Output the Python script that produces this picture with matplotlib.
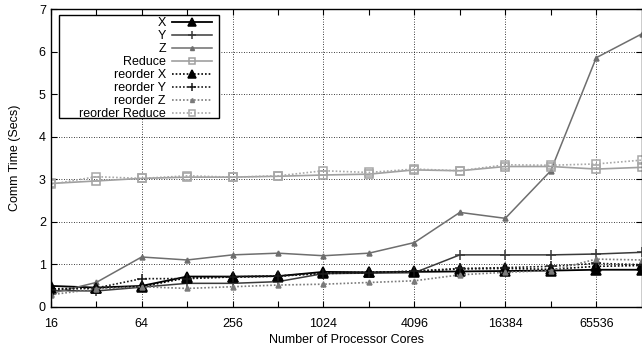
import matplotlib
matplotlib.use("Agg")
import matplotlib.pyplot as plt
from matplotlib.patches import Rectangle
from matplotlib.ticker import FixedLocator, FixedFormatter, NullFormatter

plt.rcParams['font.family'] = ['Liberation Sans', 'DejaVu Sans']
plt.rcParams['font.size'] = 9

# processor core counts (powers of two)
cores = [16, 32, 64, 128, 256, 512, 1024, 2048, 4096, 8192, 16384, 32768, 65536, 131072]

# communication time in seconds
x_time = [0.49, 0.45, 0.49, 0.71, 0.71, 0.72, 0.82, 0.81, 0.82, 0.83, 0.84, 0.85, 0.87, 0.87]
y_time = [0.38, 0.37, 0.46, 0.55, 0.55, 0.59, 0.78, 0.79, 0.80, 1.22, 1.22, 1.22, 1.24, 1.28]
z_time = [0.31, 0.57, 1.17, 1.10, 1.22, 1.26, 1.20, 1.26, 1.51, 2.22, 2.08, 3.20, 5.86, 6.42]
reduce_time = [2.90, 2.96, 3.02, 3.05, 3.05, 3.07, 3.10, 3.12, 3.22, 3.20, 3.30, 3.30, 3.24, 3.28]

reorder_x = [0.42, 0.44, 0.47, 0.68, 0.70, 0.72, 0.80, 0.81, 0.83, 0.89, 0.90, 0.88, 0.95, 0.97]
reorder_y = [0.40, 0.44, 0.66, 0.66, 0.70, 0.72, 0.78, 0.80, 0.84, 0.90, 0.92, 0.95, 1.02, 0.99]
reorder_z = [0.28, 0.42, 0.47, 0.43, 0.47, 0.51, 0.53, 0.57, 0.61, 0.75, 0.81, 0.85, 1.12, 1.10]
reorder_reduce = [2.88, 3.06, 3.02, 3.08, 3.05, 3.08, 3.20, 3.16, 3.24, 3.20, 3.34, 3.33, 3.36, 3.45]

tick_vals = [16, 64, 256, 1024, 4096, 16384, 65536]
tick_labels = ['16', '64', '256', '1024', '4096', '16384', '65536']

fig = plt.figure(figsize=(6.42, 3.54), dpi=100)
ax = fig.add_axes([0.079, 0.1336, 0.9205, 0.8401])

dots = (0, (1, 1.2))
series = [
    ("X", x_time, '#000000', '-', '^', 6.5, 1.3, 'full'),
    ("Y", y_time, '#3a3a3a', '-', '+', 6.5, 1.1, 'full'),
    ("Z", z_time, '#6e6e6e', '-', '^', 3.5, 1.1, 'full'),
    ("Reduce", reduce_time, '#a0a0a0', '-', 's', 6, 1.2, 'none'),
    ("reorder X", reorder_x, '#000000', dots, '^', 6.5, 1.2, 'full'),
    ("reorder Y", reorder_y, '#1a1a1a', dots, '+', 6.5, 1.2, 'full'),
    ("reorder Z", reorder_z, '#7a7a7a', dots, '^', 3.5, 1.2, 'full'),
    ("reorder Reduce", reorder_reduce, '#a8a8a8', dots, 's', 6, 1.2, 'none'),
]

for label, vals, col, ls, mk, ms, lw, fill in series:
    ax.plot(cores, vals, color=col, linestyle=ls, linewidth=lw, marker=mk,
            markersize=ms, fillstyle=fill, markeredgewidth=1.1,
            markeredgecolor=col, label=label)

ax.set_xscale('log', base=2)
ax.set_xlim(16, 131072)
ax.set_ylim(0, 7)
ax.xaxis.set_major_locator(FixedLocator(tick_vals))
ax.xaxis.set_major_formatter(FixedFormatter(tick_labels))
ax.xaxis.set_minor_locator(FixedLocator([32, 128, 512, 2048, 8192, 32768]))
ax.xaxis.set_minor_formatter(NullFormatter())
ax.set_yticks(range(0, 8))

ax.tick_params(which='both', direction='in', top=True, right=True, length=4, width=0.8)
ax.tick_params(axis='x', pad=8)
ax.grid(True, which='major', color='#000000', linestyle=(0, (1, 2)), linewidth=0.6)
ax.set_axisbelow(True)
for sp in ax.spines.values():
    sp.set_linewidth(1.0)

ax.set_xlabel("Number of Processor Cores", labelpad=3)
ax.set_ylabel("Comm Time (Secs)", labelpad=13)

# key box drawn separately so the padding is wider on the left, like gnuplot
ax.add_patch(Rectangle((0.0136, 0.634), 0.272, 0.347, transform=ax.transAxes,
                       facecolor='white', edgecolor='black', linewidth=1.0, zorder=4.9))
leg = ax.legend(loc='upper right', bbox_to_anchor=(0.2733, 0.973), borderaxespad=0,
                markerfirst=False, frameon=False, handlelength=3.2, markerscale=0.8,
                labelspacing=0.08, borderpad=0, handletextpad=0.5)
for col_box in leg._legend_handle_box.get_children():
    col_box.align = 'right'

fig.savefig('out.png', dpi=100)
